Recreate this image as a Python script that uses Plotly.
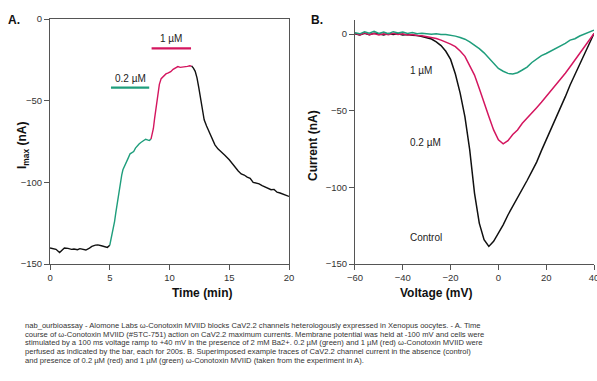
import plotly.graph_objects as go

# ---------------- Panel A data ----------------
t_pre = [0, 0.3, 0.5, 0.8, 1.0, 1.2, 1.5, 1.8, 2.0, 2.3, 2.5, 2.8, 3.0, 3.3, 3.5, 3.8, 4.0, 4.3, 4.5, 4.8, 5.0]
i_pre = [-140.2, -140.5, -141, -142.9, -141.5, -140.2, -140.4, -141, -140.8, -141.2, -140.6, -141.2, -141.4,
         -140.2, -139.2, -138.4, -138.3, -138.8, -139.2, -139.8, -138.5]
t_low = [5.0, 5.1, 5.2, 5.3, 5.4, 5.5, 5.6, 5.7, 5.8, 5.9, 6.0, 6.1, 6.25, 6.4, 6.55, 6.7, 6.85, 7.0, 7.15, 7.3,
         7.45, 7.6, 7.8, 8.0, 8.15, 8.3, 8.45]
i_low = [-138.5, -135, -132, -129, -124, -118.8, -113.5, -108.6, -104, -99.4, -95.5, -92.3, -89.5, -87.2, -85,
         -82.5, -82, -81.1, -79, -77.4, -76.5, -75.6, -74.8, -73.6, -74, -74.4, -73.5]
t_high = [8.45, 8.55, 8.65, 8.75, 8.85, 8.95, 9.05, 9.15, 9.3, 9.5, 9.7, 9.9, 10.1, 10.3, 10.5, 10.7, 10.9, 11.1,
          11.3, 11.5, 11.7, 11.85]
i_high = [-73.5, -71, -67, -61, -55, -49, -44, -40, -36.5, -34.8, -33.6, -33, -32.2, -30.8, -29.8, -29.1, -29.6,
          -29.5, -29.1, -29, -28.6, -28.8]
t_wash = [11.85, 12.0, 12.15, 12.3, 12.45, 12.6, 12.75, 12.9, 13.1, 13.3, 13.55, 13.8, 14.05, 14.3, 14.65, 15.0,
          15.25, 15.5, 15.75, 16.0, 16.25, 16.5, 16.75, 17.0, 17.25, 17.5, 17.75, 18.0, 18.25, 18.5, 18.75, 19.0,
          19.25, 19.5, 19.75, 20.0]
i_wash = [-28.8, -30, -32, -36, -42, -49.5, -56, -61.7, -65.5, -68.9, -73, -77, -79.5, -81.1, -83.5, -86.2, -88.5,
          -91.3, -93, -94.8, -95.5, -96.8, -97.5, -100, -100.5, -100.9, -102, -103, -103.5, -104.5, -104.3, -106,
          -106.5, -107.2, -107.8, -108.6]

app_labels = ["0.2 \u00b5M", "1 \u00b5M"]
app_start = [5.1, 8.5]
app_end = [8.3, 11.8]
app_level = [-42, -18]

# ---------------- Panel B data ----------------
volts = [-60, -58, -56, -54, -52, -50, -48, -46, -44, -42, -40, -38, -36, -34, -32, -30, -28, -26, -24, -22,
         -20, -18, -16, -14, -12, -10, -8, -6, -4, -2, 0, 2, 4, 6, 8, 10, 12, 14, 16, 18, 20, 22, 24, 26, 28,
         30, 32, 34, 36, 38, 40]
cur_control = [0.3, -0.5, 0.6, -0.4, 0.5, 0.2, -0.6, 0.4, -0.3, 0.2, -0.5, -0.2, -0.8, -0.9, -1.5, -2.2, -3.2,
               -5, -7.5, -11.2, -16.5, -26, -38.5, -54, -75.5, -103.7, -123.3, -134.1, -138.5, -135.2, -129.8,
               -124.4, -118, -112.5, -107, -101.6, -95.5, -89.5, -83.5, -76, -69, -62, -55.5, -48, -40.8, -33.2,
               -26.5, -19, -12.5, -6, 0.4]
cur_02 = [0.5, -0.6, 0.8, -0.3, 0.4, -0.5, 0.3, -0.4, 0.6, -0.3, 0.2, -0.6, -0.2, -0.9, -1.0, -1.5, -2.0, -2.8,
          -3.9, -5, -6.5, -8.2, -11, -14.5, -20.2, -26.7, -35.4, -45.1, -53.8, -62.5, -69, -71.6, -69.5, -65.5,
          -62.5, -58.2, -55, -51.5, -48, -44.5, -40.8, -37, -33, -29, -25.5, -21.3, -17, -12.5, -8.5, -3.9, 0.4]
cur_1 = [0.9, 0.2, 1.5, 0.6, 1.8, 0.5, 1.4, 0.3, 1.6, 0.7, 1.3, 0.4, 1.0, 0.3, 0.6, 0.4, 0.0, 0.3, -0.3, -0.2,
         -0.7, -1.3, -2.2, -3.3, -5, -7.2, -9.5, -12.2, -15.5, -19.1, -22.4, -24.2, -25.6, -26.0, -25.2, -23.4,
         -21.5, -18.5, -16.2, -14, -12.6, -11, -9, -7.8, -6, -3.9, -3, -1.2, 0, 1.5, 2.6]
trace_labels = ["1 \u00b5M", "0.2 \u00b5M", "Control"]
label_y = [-23.4, -70.8, -132.8]
label_v = -38

GREEN = "#1f9e7c"
RED = "#d4165f"
BLACK = "#111111"
TICKFONT = dict(family="Liberation Sans, Arial", size=9.5, color="#333333")

fig = go.Figure()
lw = 1.4
fig.add_trace(go.Scatter(x=t_pre, y=i_pre, mode="lines", line=dict(color=BLACK, width=lw), xaxis="x", yaxis="y"))
fig.add_trace(go.Scatter(x=t_low, y=i_low, mode="lines", line=dict(color=GREEN, width=lw), xaxis="x", yaxis="y"))
fig.add_trace(go.Scatter(x=t_high, y=i_high, mode="lines", line=dict(color=RED, width=lw), xaxis="x", yaxis="y"))
fig.add_trace(go.Scatter(x=t_wash, y=i_wash, mode="lines", line=dict(color=BLACK, width=lw), xaxis="x", yaxis="y"))
for k, col in enumerate([GREEN, RED]):
    fig.add_trace(go.Scatter(x=[app_start[k], app_end[k]], y=[app_level[k], app_level[k]], mode="lines",
                             line=dict(color=col, width=2.2), xaxis="x", yaxis="y"))

fig.add_trace(go.Scatter(x=volts, y=cur_control, mode="lines", line=dict(color=BLACK, width=1.5), xaxis="x2", yaxis="y2"))
fig.add_trace(go.Scatter(x=volts, y=cur_02, mode="lines", line=dict(color=RED, width=1.5), xaxis="x2", yaxis="y2"))
fig.add_trace(go.Scatter(x=volts, y=cur_1, mode="lines", line=dict(color=GREEN, width=1.5), xaxis="x2", yaxis="y2"))

axis_common = dict(showgrid=False, zeroline=False, showline=True, linecolor="#555555", linewidth=1,
                   ticks="outside", ticklen=5, tickcolor="#555555", tickfont=TICKFONT, automargin=False,
                   ticklabeloverflow="allow")

fig.update_layout(
    width=597, height=381,
    margin=dict(l=0, r=0, t=0, b=0, autoexpand=False),
    paper_bgcolor="white", plot_bgcolor="white",
    showlegend=False,
    xaxis=dict(domain=[0.0838, 0.4841], range=[0, 20], tickvals=[0, 5, 10, 15, 20], mirror=True,
               anchor="y", **axis_common),
    yaxis=dict(domain=[0.307, 0.950], range=[-150, 0], tickvals=[0, -50, -100, -150], mirror=True,
               anchor="x", **axis_common),
    xaxis2=dict(domain=[0.5946, 0.995], range=[-60, 40], tickvals=[-60, -40, -20, 0, 20, 40],
                anchor="y2", **axis_common),
    yaxis2=dict(domain=[0.307, 0.947], range=[-150, 9.1], tickvals=[0, -50, -100, -150],
                anchor="x2", **axis_common),
)

ann = []
LAB = dict(family="Liberation Sans, Arial", size=10, color="#222222")
for k in range(2):
    ann.append(dict(x=(app_start[k] + app_end[k]) / 2, y=app_level[k], xref="x", yref="y", text=app_labels[k],
                    showarrow=False, yanchor="bottom", yshift=2, font=LAB))
for k in range(3):
    ann.append(dict(x=label_v, y=label_y[k], xref="x2", yref="y2", text=trace_labels[k], showarrow=False,
                    xanchor="left", font=LAB))

BOLD = dict(family="Liberation Sans, Arial", size=12, color="#111111")
ann += [
    dict(x=6 / 597, y=1 - 11 / 381, xref="paper", yref="paper", text="<b>A.</b>", showarrow=False,
         xanchor="left", font=BOLD),
    dict(x=309 / 597, y=1 - 11 / 381, xref="paper", yref="paper", text="<b>B.</b>", showarrow=False,
         xanchor="left", font=BOLD),
    dict(x=170 / 597, y=1 - 302 / 381, xref="paper", yref="paper", text="<b>Time (min)</b>", showarrow=False,
         font=BOLD),
    dict(x=474 / 597, y=1 - 302 / 381, xref="paper", yref="paper", text="<b>Voltage (mV)</b>", showarrow=False,
         font=BOLD),
    dict(x=13 / 597, y=1 - 146 / 381, xref="paper", yref="paper", text="<b>I<sub>max</sub> (nA)</b>",
         showarrow=False, textangle=-90, font=BOLD),
    dict(x=313 / 597, y=1 - 146 / 381, xref="paper", yref="paper", text="<b>Current (nA)</b>",
         showarrow=False, textangle=-90, font=BOLD),
]

caption = [
    "nab_ourbioassay - Alomone Labs \u03c9-Conotoxin MVIID blocks CaV2.2 channels heterologously expressed in Xenopus oocytes. - A. Time",
    "course of \u03c9-Conotoxin MVIID (#STC-751) action on CaV2.2 maximum currents. Membrane potential was held at -100 mV and cells were",
    "stimulated by a 100 ms voltage ramp to +40 mV in the presence of 2 mM Ba2+. 0.2 \u00b5M (green) and 1 \u00b5M (red) \u03c9-Conotoxin MVIID were",
    "perfused as indicated by the bar, each for 200s. B. Superimposed example traces of CaV2.2 channel current in the absence (control)",
    "and presence of 0.2 \u00b5M (red) and 1 \u00b5M (green) \u03c9-Conotoxin MVIID (taken from the experiment in A).",
]
cap_y = [325, 334, 342.5, 351, 360]
CAPF = dict(family="Liberation Sans, Arial", size=7.6, color="#333333")
for line, yy in zip(caption, cap_y):
    ann.append(dict(x=23 / 597, y=1 - yy / 381, xref="paper", yref="paper", text=line, showarrow=False,
                    xanchor="left", yanchor="middle", font=CAPF))

fig.update_layout(annotations=ann)
fig.write_html("out.html", config={"displayModeBar": False},
               post_script="document.body.style.margin='0px';document.body.style.overflow='hidden';")
